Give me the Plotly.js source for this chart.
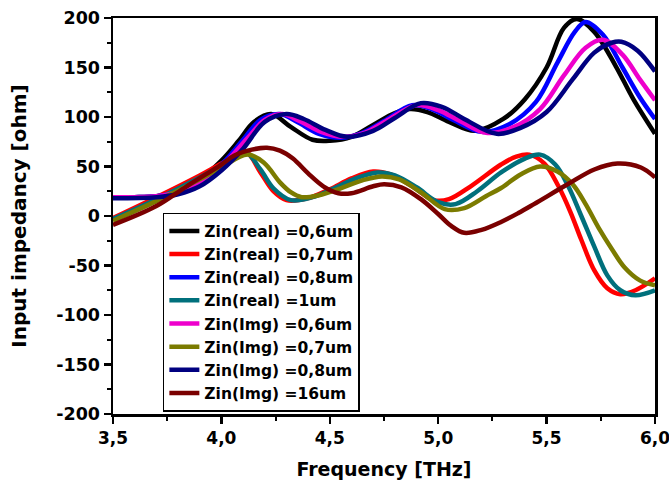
<!DOCTYPE html>
<html><head><meta charset="utf-8">
<script src="https://cdn.plot.ly/plotly-3.0.1.min.js"></script>
<style>html,body{margin:0;padding:0;background:#fff}#chart{width:669px;height:492px}</style>
</head><body><div id="chart"></div>
<script>
// Series names (legend)
const names = ["Zin(real) =0,6um","Zin(real) =0,7um","Zin(real) =0,8um","Zin(real) =1um",
               "Zin(Img) =0,6um","Zin(Img) =0,7um","Zin(Img) =0,8um","Zin(Img) =16um"];
const colors = ["#000000","#ff0000","#0000ff","#00707c","#ee00cc","#7b7b00","#000080","#7a0000"];

// Zin(real) 0,6um
const real06_f = [3.5,3.6,3.7,3.8,3.9,4.0,4.08,4.15,4.23,4.32,4.42,4.5,4.6,4.7,4.8,4.87,4.95,5.05,5.17,5.3,5.4,5.5,5.58,5.64,5.72,5.82,5.9,6.0];
const real06_z = [19,19,20,25,37,56,76,95,103,90,77,76,80,92,104,108,105,95,86,98,118,150,190,199,186,151,118,83];
// Zin(real) 0,7um
const real07_f = [3.5,3.7,3.9,4.0,4.11,4.18,4.24,4.3,4.4,4.5,4.6,4.7,4.78,4.88,4.98,5.05,5.15,5.29,5.36,5.42,5.49,5.555,5.61,5.66,5.72,5.78,5.84,5.91,6.0];
const real07_z = [-2,19,41,53,65,44,25,16,18,27,38,45,42,30,16,17,30,52,60,62,53,30,4,-24,-55,-73,-79,-75,-63];
// Zin(real) 0,8um
const real08_f = [3.5,3.6,3.7,3.8,3.9,4.0,4.1,4.18,4.27,4.35,4.45,4.55,4.65,4.75,4.88,4.97,5.07,5.2,5.33,5.45,5.55,5.63,5.68,5.76,5.85,5.93,6.0];
const real08_z = [19,19,20,24,34,52,77,97,103,95,83,79,84,96,112,108,97,85,93,115,155,186,196,183,150,120,98];
// Zin(real) 1um
const real1_f = [3.5,3.7,3.9,4.0,4.11,4.18,4.24,4.32,4.42,4.52,4.62,4.72,4.8,4.9,5.0,5.08,5.18,5.29,5.4,5.47,5.54,5.6,5.66,5.72,5.78,5.84,5.91,6.0];
const real1_z = [-3,17,39,51,64,47,28,16,19,28,38,44,41,29,14,12,25,44,58,62,52,30,0,-31,-60,-75,-80,-75];
// Zin(Img) 0,6um
const img06_f = [3.5,3.7,3.8,3.9,4.0,4.13,4.2,4.28,4.36,4.46,4.56,4.66,4.76,4.9,5.0,5.1,5.22,5.35,5.47,5.58,5.68,5.76,5.85,5.93,6.0];
const img06_z = [19,20,24,33,50,81,97,103,96,85,80,84,96,112,107,96,84,90,108,142,170,178,163,138,117];
// Zin(Img) 0,7um
const img07_f = [3.5,3.7,3.9,4.0,4.12,4.195,4.27,4.32,4.37,4.45,4.55,4.65,4.74,4.82,4.92,5.03,5.12,5.22,5.288,5.38,5.47,5.55,5.62,5.68,5.74,5.8,5.86,5.93,6.0];
const img07_z = [-5,15,37,49,62,54,34,24,19,21,28,36,40,37,24,7,8,20,28,42,50,45,32,12,-12,-33,-52,-65,-70];
// Zin(Img) 0,8um
const img08_f = [3.5,3.7,3.8,3.9,4.0,4.1,4.2,4.3,4.38,4.48,4.58,4.7,4.8,4.92,5.02,5.12,5.27,5.38,5.5,5.62,5.72,5.8,5.845,5.92,6.0];
const img08_z = [18,19,22,30,46,68,95,103,98,87,80,86,99,114,110,98,83,89,105,138,165,175,176,167,146];
// Zin(Img) 16um
const img16_f = [3.5,3.7,3.84,4.0,4.06,4.14,4.21,4.27,4.33,4.4,4.47,4.54,4.6,4.7,4.75,4.83,4.92,5.0,5.06,5.12,5.2,5.29,5.37,5.442,5.597,5.72,5.827,5.935,6.0];
const img16_z = [-9,10,30,52,61,67,69,66,58,43,30,23,23,30,32,29,17,2,-10,-17,-14,-6,3,12,32,47,53,49,39];

const xs = [real06_f,real07_f,real08_f,real1_f,img06_f,img07_f,img08_f,img16_f];
const ys = [real06_z,real07_z,real08_z,real1_z,img06_z,img07_z,img08_z,img16_z];

// Tick labels
const xTickVals = [3.5,4.0,4.5,5.0,5.5,6.0];
const xTickText = ["3,5","4,0","4,5","5,0","5,5","6,0"];
const yTickVals = [-200,-150,-100,-50,0,50,100,150,200];
const yTickText = ["-200","-150","-100","-50","0","50","100","150","200"];

const traces = names.map((n,i)=>({
  x: xs[i], y: ys[i], name: n, type:'scatter', mode:'lines',
  line:{color:colors[i], width:4.5, shape:'spline', smoothing:1}
}));

const FAM = '"DejaVu Sans", Verdana, sans-serif';
const layout = {
  width:669, height:492,
  margin:{l:113, r:14, t:18, b:78},
  paper_bgcolor:'#fff', plot_bgcolor:'#fff',
  font: {family:FAM, color:'#000'},
  showlegend:true,
  legend:{x:0.092, y:0.508, xanchor:'left', yanchor:'top',
    bgcolor:'#fff', bordercolor:'#000', borderwidth:1.5,
    font:{family:FAM, size:15.5, weight:'bold', color:'#000'},
    tracegroupgap:0},
  xaxis:{range:[3.5,6.0], tickvals:xTickVals, ticktext:xTickText,
    showgrid:false, zeroline:false, showline:true, linecolor:'#000', linewidth:2.5, mirror:true,
    ticks:'outside', ticklen:7, tickwidth:2.5, tickcolor:'#000', ticklabeloverflow:'allow',
    minor:{ticks:'outside', ticklen:4, tickwidth:2, tickcolor:'#000', dtick:0.25, tick0:3.5, showgrid:false},
    tickfont:{family:FAM, size:17, weight:'bold', color:'#000'},
    title:{text:'Frequency [THz]', font:{family:FAM, size:19, weight:'bold', color:'#000'}, standoff:16}},
  yaxis:{range:[-200,200], tickvals:yTickVals, ticktext:yTickText,
    showgrid:false, zeroline:false, showline:true, linecolor:'#000', linewidth:2.5, mirror:true,
    ticks:'outside', ticklen:7, tickwidth:2.5, tickcolor:'#000', ticklabeloverflow:'allow',
    minor:{ticks:'outside', ticklen:4, tickwidth:2, tickcolor:'#000', dtick:25, tick0:0, showgrid:false},
    tickfont:{family:FAM, size:17.5, weight:'bold', color:'#000'},
    title:{text:'Input impedancy [ohm]', font:{family:FAM, size:20, weight:'bold', color:'#000'}, standoff:24}}
};
Plotly.newPlot('chart', traces, layout, {displayModeBar:false, staticPlot:true});
</script></body></html>
